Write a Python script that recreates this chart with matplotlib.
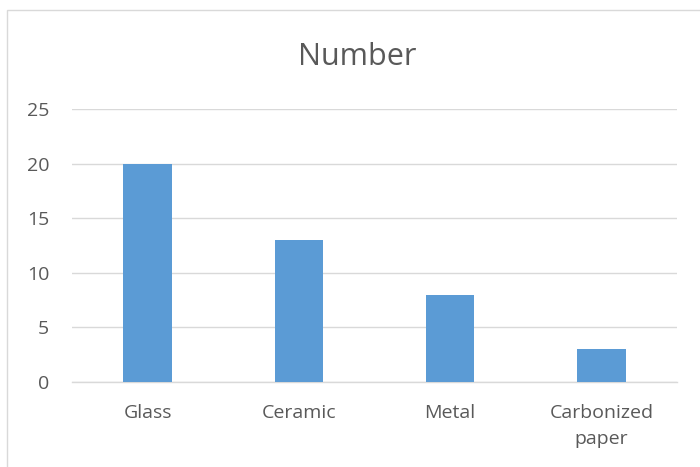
# bar chart, excel style
import matplotlib
matplotlib.use('Agg')
from matplotlib import pyplot as plt
from matplotlib.patches import Rectangle

# data
categories = ['Glass', 'Ceramic', 'Metal', 'Carbonized\npaper']
values = [20, 13, 8, 3]
yticks = [0, 5, 10, 15, 20, 25]

plt.rcParams['font.family'] = ['Open Sans', 'DejaVu Sans']
grey = '#595959'

fig = plt.figure(figsize=(7, 4.67), dpi=100)
ax = fig.add_axes([72/700, 1 - 382/467, 605/700, 273/467])

# bars
x = list(range(len(categories)))
ax.bar(x, values, width=0.32, color='#5b9bd5', zorder=3)

ax.set_xlim(-0.5, len(categories) - 0.5)
ax.set_ylim(0, 25)
ax.set_yticks(yticks)
ax.set_xticks(x)
ax.set_xticklabels(categories, linespacing=1.55)

# gridlines
ax.grid(axis='y', color='#d9d9d9', linewidth=1, zorder=0)
for s in ['top', 'right', 'left']:
    ax.spines[s].set_visible(False)
ax.spines['bottom'].set_color('#d9d9d9')
ax.spines['bottom'].set_linewidth(1)
ax.tick_params(axis='both', length=0, labelsize=14, colors=grey)
ax.tick_params(axis='y', pad=16.5)
ax.tick_params(axis='x', pad=16)

# title
fig.text(357/700, 1 - 65/467, 'Number', ha='center', va='baseline', fontsize=22, color=grey)

# chart border (only left and top visible)
fig.patches.append(Rectangle((7/700, -0.1), 1.2, 1 - 10/467 + 0.1, transform=fig.transFigure,
                             fill=False, edgecolor='#d9d9d9', linewidth=1))

fig.savefig('out.png', dpi=100)
